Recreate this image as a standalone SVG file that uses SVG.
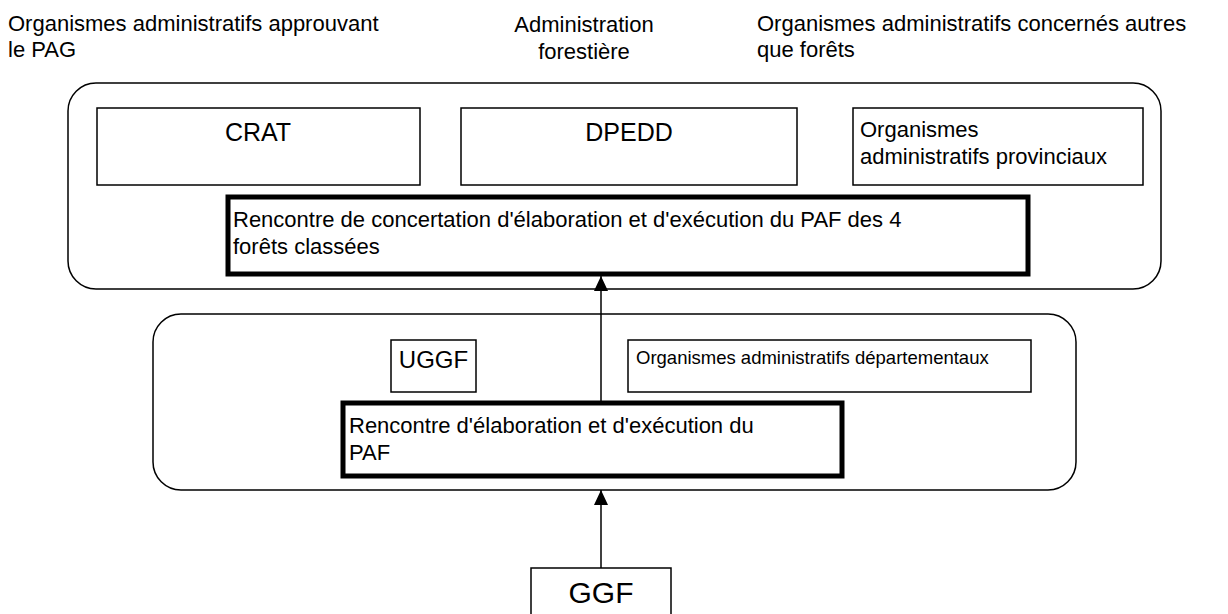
<svg xmlns="http://www.w3.org/2000/svg" width="1228" height="614" viewBox="0 0 1228 614">
<defs>
<style>
text{font-family:"Liberation Sans",Arial,sans-serif;fill:#000}
.t{font-size:22px}
.box{fill:#fff;stroke:#000;stroke-width:1.5}
.thick{fill:#fff;stroke:#000;stroke-width:5}
.grp{fill:#fff;stroke:#000;stroke-width:1.5}
.conn{stroke:#000;stroke-width:1.5;fill:none}
</style>
<marker id="ah" markerUnits="userSpaceOnUse" markerWidth="16" markerHeight="16" viewBox="0 0 16 16" refX="15" refY="8" orient="auto">
<path d="M0,1 L15,8 L0,15 Z" fill="#000"/>
</marker>
</defs>
<rect width="1228" height="614" fill="#fff"/>
<g id="labels">
<text class="t" x="8" y="31">Organismes administratifs approuvant</text>
<text class="t" x="8" y="57">le PAG</text>
<text class="t" x="584" y="32" text-anchor="middle">Administration</text>
<text class="t" x="584" y="59" text-anchor="middle">forestière</text>
<text class="t" x="757" y="31">Organismes administratifs concernés autres</text>
<text class="t" x="757" y="57">que forêts</text>
</g>
<g id="provincial-level">
<rect class="grp" x="68" y="83" width="1093" height="206" rx="28"/>
</g>
<g id="crat">
<rect class="box" x="97" y="108" width="323" height="77"/>
<text x="258" y="141" font-size="25" text-anchor="middle">CRAT</text>
</g>
<g id="dpedd">
<rect class="box" x="461" y="108" width="336" height="77"/>
<text x="629" y="141" font-size="25" text-anchor="middle">DPEDD</text>
</g>
<g id="org-prov">
<rect class="box" x="853" y="108" width="290" height="77"/>
<text class="t" x="860" y="137">Organismes</text>
<text class="t" x="860" y="164">administratifs provinciaux</text>
</g>
<g id="rencontre-concertation">
<rect class="thick" x="228" y="197" width="800" height="77"/>
<text class="t" x="233" y="227">Rencontre de concertation d'élaboration et d'exécution du PAF des 4</text>
<text class="t" x="233" y="254">forêts classées</text>
</g>
<g id="departmental-level">
<rect class="grp" x="153" y="314" width="923" height="176" rx="28"/>
</g>
<g id="uggf">
<rect class="box" x="391" y="340" width="85" height="52"/>
<text x="433.5" y="368" font-size="24" text-anchor="middle">UGGF</text>
</g>
<g id="org-dept">
<rect class="box" x="628" y="340" width="403" height="52"/>
<text x="636" y="364" font-size="18.5">Organismes administratifs départementaux</text>
</g>
<g id="rencontre-elaboration">
<rect class="thick" x="343" y="403" width="499" height="73"/>
<text class="t" x="349" y="433">Rencontre d'élaboration et d'exécution du</text>
<text class="t" x="349" y="460">PAF</text>
</g>
<g id="ggf">
<rect class="box" x="531" y="568" width="140" height="60"/>
<text x="601" y="603" font-size="30" text-anchor="middle">GGF</text>
</g>
<g id="connectors">
<line class="conn" x1="601" y1="403" x2="601" y2="276" marker-end="url(#ah)"/>
<line class="conn" x1="601" y1="568" x2="601" y2="490" marker-end="url(#ah)"/>
</g>
</svg>
